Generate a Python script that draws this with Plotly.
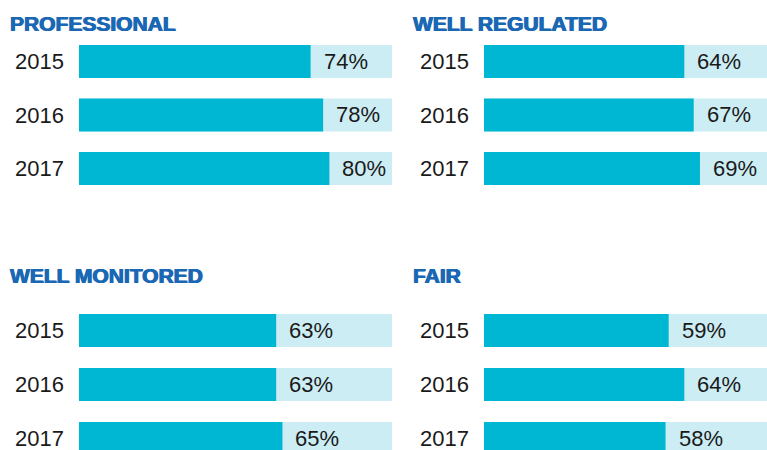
import plotly.graph_objects as go

# ---- data ----
years = ["2015", "2016", "2017"]
titles = ["PROFESSIONAL", "WELL REGULATED", "WELL MONITORED", "FAIR"]
professional = [74, 78, 80]
well_regulated = [64, 67, 69]
well_monitored = [63, 63, 65]
fair = [59, 64, 58]
full_scale = [100, 100, 100]

series = [professional, well_regulated, well_monitored, fair]

W, H = 767, 450
DARK = "#00b7d3"
LIGHT = "#ccedf4"
BLUE = "#1a68b4"
TXT = "#1a1a1a"
FONT = "Liberation Sans, Arial, sans-serif"


def px_x(x):
    return x / W


def px_y(y):
    return 1 - y / H


# panel geometry (pixels)
bar_scale_px = 313.0
panels = [
    dict(x0=79, top=34.75, bottom=195.25, step=53.5, title_x=8, title_y=23.5),
    dict(x0=484, top=34.75, bottom=195.25, step=53.5, title_x=411, title_y=23.5),
    dict(x0=79, top=303.5, bottom=465.5, step=54.0, title_x=8, title_y=275.5),
    dict(x0=484, top=303.5, bottom=465.5, step=54.0, title_x=411, title_y=275.5),
]

fig = go.Figure()
layout = dict(
    width=W, height=H,
    margin=dict(l=0, r=0, t=0, b=0),
    paper_bgcolor="white", plot_bgcolor="white",
    showlegend=False, barmode="overlay",
    annotations=[],
)

for i, (p, vals, title) in enumerate(zip(panels, series, titles)):
    n = "" if i == 0 else str(i + 1)
    xa, ya = "x" + n, "y" + n
    x1 = min(p["x0"] + bar_scale_px, W)
    xmax = (x1 - p["x0"]) / bar_scale_px * 100
    ybot = min(p["bottom"], H)
    ymax = -0.5 + (ybot - p["top"]) / p["step"]
    bw = 33.0 / p["step"]

    fig.add_trace(go.Bar(x=full_scale, y=years, orientation="h", width=bw,
                         marker=dict(color=LIGHT, line=dict(width=0)),
                         xaxis=xa, yaxis=ya, hoverinfo="skip"))
    fig.add_trace(go.Bar(x=vals, y=years, orientation="h", width=bw,
                         marker=dict(color=DARK, line=dict(width=0)),
                         xaxis=xa, yaxis=ya))

    layout["xaxis" + n] = dict(domain=[px_x(p["x0"]), px_x(x1)], range=[0, xmax],
                               visible=False, fixedrange=True, anchor=ya)
    layout["yaxis" + n] = dict(domain=[px_y(ybot), px_y(p["top"])],
                               type="category", categoryorder="array", categoryarray=years,
                               range=[ymax, -0.5], showgrid=False, zeroline=False,
                               showline=False, ticks="", ticklabelstandoff=14,
                               tickfont=dict(family=FONT, size=22, color=TXT),
                               anchor=xa, fixedrange=True)

    for k, v in enumerate(vals):
        layout["annotations"].append(dict(
            x=v, y=k, xref=xa, yref=ya, text=f"{v}%", showarrow=False,
            xanchor="left", yanchor="middle", xshift=11,
            font=dict(family=FONT, size=22, color=TXT)))

    layout["annotations"].append(dict(
        x=px_x(p["title_x"]), y=px_y(p["title_y"]), xref="paper", yref="paper",
        text=f"<b>{title}</b>", showarrow=False, xanchor="left", yanchor="middle",
        font=dict(family=FONT, size=21, color=BLUE,
                  shadow=f"0.6px 0 0 {BLUE}, -0.6px 0 0 {BLUE}")))

fig.update_layout(**layout)
fig.write_html("out.html", config={"displayModeBar": False, "staticPlot": True},
               post_script="document.body.style.margin='0';document.body.style.overflow='hidden';")
